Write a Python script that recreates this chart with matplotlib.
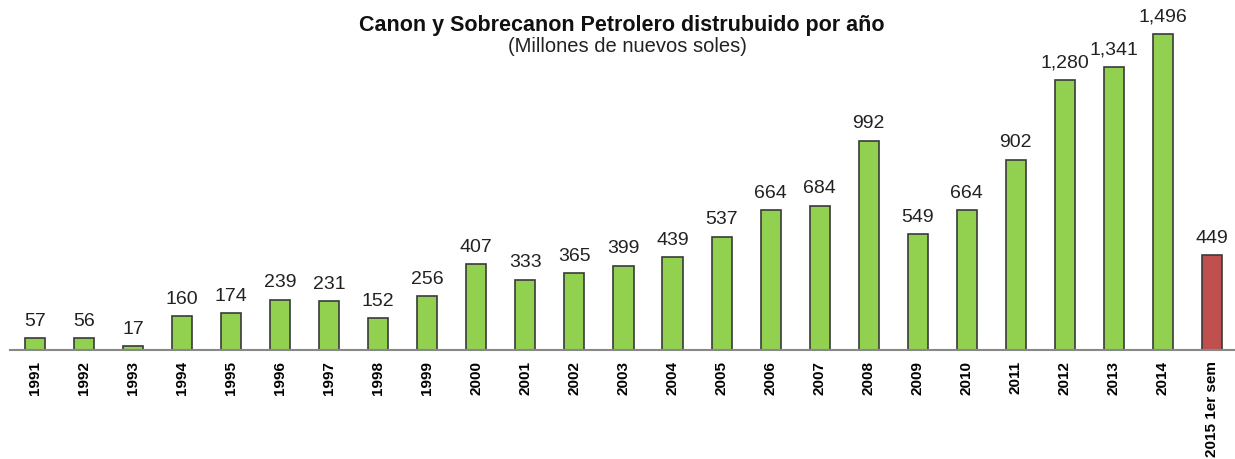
import matplotlib
matplotlib.use("Agg")
import matplotlib.pyplot as plt

years = ["1991", "1992", "1993", "1994", "1995", "1996", "1997", "1998", "1999",
         "2000", "2001", "2002", "2003", "2004", "2005", "2006", "2007", "2008",
         "2009", "2010", "2011", "2012", "2013", "2014", "2015 1er sem"]
values = [57, 56, 17, 160, 174, 239, 231, 152, 256, 407, 333, 365, 399, 439,
          537, 664, 684, 992, 549, 664, 902, 1280, 1341, 1496, 449]

green = "#92d050"
red = "#c0504d"
colors = [green] * (len(values) - 1) + [red]

plt.rcParams['font.family'] = ['Liberation Sans', 'DejaVu Sans']

fig = plt.figure(figsize=(12.35, 4.59), dpi=100)
ax = fig.add_axes([10 / 1235, 109 / 459, 1225 / 1235, 340 / 459])

x = list(range(len(values)))
ax.bar(x, values, width=0.41, color=colors, edgecolor="#3a3a3a", linewidth=1.2, zorder=2)

for xi, v in zip(x, values):
    ax.annotate(f"{v:,}", (xi, v), xytext=(0, 6), textcoords="offset points",
                ha="center", va="bottom", fontsize=14, color="#222222")

ax.set_xlim(-0.51, 24.47)
ax.set_ylim(0, 1611)
ax.set_xticks(x)
ax.set_xticklabels(years, rotation=90, fontsize=11, fontweight="bold", va="top")
ax.tick_params(axis="x", length=0, pad=8)
ax.set_yticks([])
for s in ["top", "right", "left"]:
    ax.spines[s].set_visible(False)
ax.spines["bottom"].set_color("#888888")
ax.spines["bottom"].set_linewidth(1.5)

fig.text(622 / 1235, 1 - 25 / 459, "Canon y Sobrecanon Petrolero distrubuido por año",
         ha="center", va="center", fontsize=15.5, fontweight="bold", color="#111111")
fig.text(627 / 1235, 1 - 47 / 459, "(Millones de nuevos soles)",
         ha="center", va="center", fontsize=14.5, color="#222222")

fig.savefig("out.png", dpi=100)
